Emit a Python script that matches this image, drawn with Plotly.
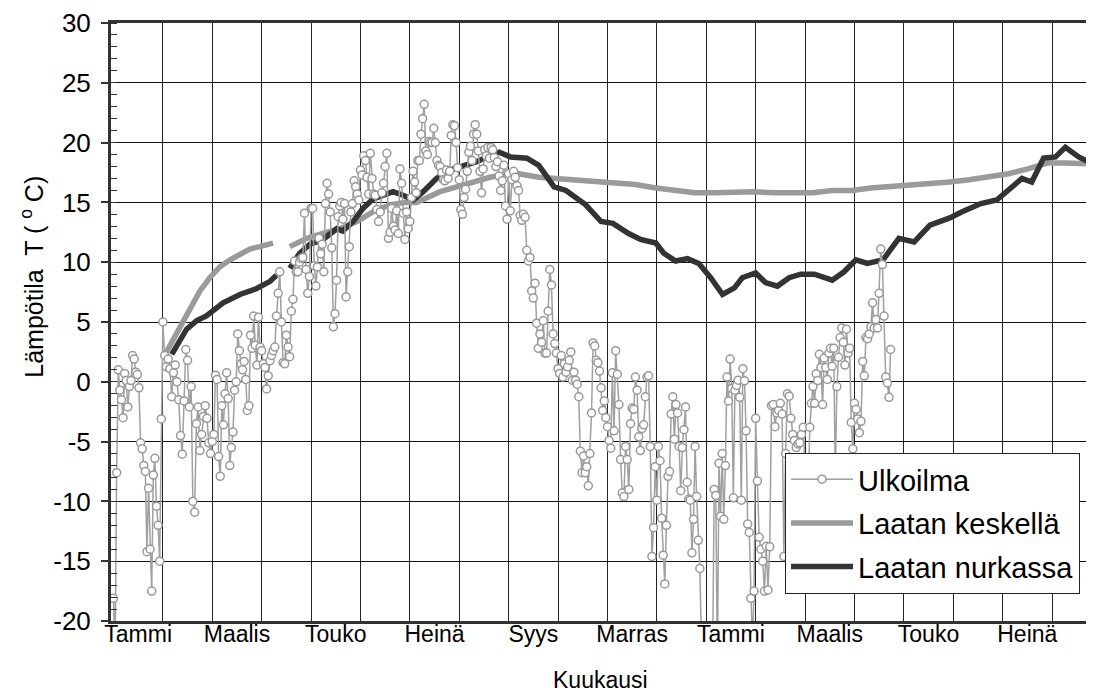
import plotly.graph_objects as go

# ---------------- data ----------------
kuukausi_nimet = ["Tammi", "Maalis", "Touko", "Heinä", "Syys",
                  "Marras", "Tammi", "Maalis", "Touko", "Heinä"]
kuukausi_pituudet = [31, 28, 31, 30, 31, 30, 31, 31, 30, 31, 30, 31, 31, 28, 31, 30]
y_tikit = [-20, -15, -10, -5, 0, 5, 10, 15, 20, 25, 30]
y_tikki_tekstit = ["-20", "-15", "-10", "-5", "0", "5", "10", "15", "20", "25", "30"]

# outdoor air, daily values, month by month (year 1 Jan ... year 2 Apr)
ulko_tammi1 = [-18.1, -23.0, -7.6, 1.0, -0.7, -1.5, -3.0, 0.7, 0.1, -2.1, -0.4, 0.1, 2.2, 1.9, 0.8, 0.6,
               -0.5, -5.1, -5.6, -7.0, -7.5, -14.2, -8.9, -14.0, -17.5, -7.8, -6.4, -10.4, -12.0, -15.0, -3.1]
ulko_helmi1 = [5.0, 2.2, 1.25, 1.9, 1.1, -1.25, 0.75, 1.4, 0.0, -1.5, -4.5, -6.05, -1.6, 2.7, 1.8, -2.1,
               -0.4, -10.0, -10.9, -3.5, -2.1, -5.75, -4.4, -2.9, -2.0, -3.05, -5.1, -6.0]
ulko_maalis1 = [-5.0, -4.4, 0.55, 0.2, -6.25, -7.9, -2.0, -3.6, -1.0, 0.75, -1.4, -7.0, -5.5, -4.2, -0.7, 0.0,
                4.0, 2.6, 1.5, 1.0, 1.7, 0.2, -2.4, -2.0, 3.9, 2.8, 5.5, 3.05, 1.4, 5.4, 2.9]
ulko_huhti1 = [2.6, 1.5, 1.2, -0.6, 0.5, 1.75, 2.2, 2.6, 2.9, 5.5, 7.4, 9.2, 5.0, 1.6, 1.5, 3.9,
               2.9, 2.1, 5.9, 6.9, 10.1, 9.2, 9.2, 10.0, 10.3, 10.4, 14.1, 9.4, 7.4, 8.8]
ulko_touko1 = [14.5, 14.5, 9.7, 8.0, 9.6, 12.0, 10.7, 11.5, 9.2, 14.9, 16.6, 15.7, 14.2, 11.2, 4.6, 5.7,
               8.5, 13.8, 14.7, 15.0, 13.6, 14.9, 7.1, 9.2, 11.3, 14.2, 14.9, 16.8, 16.3, 15.7, 15.2]
ulko_kesa1 = [17.7, 17.3, 18.9, 18.5, 17.1, 15.7, 19.1, 17.0, 15.7, 15.6, 14.4, 13.4, 14.2, 15.8, 16.6,
              18.0, 19.1, 12.0, 12.5, 14.5, 13.0, 12.7, 14.3, 12.4, 17.8, 16.6, 14.1, 11.9, 14.2, 12.8]
ulko_heina1 = [13.4, 15.4, 17.6, 16.7, 15.8, 18.5, 18.5, 20.7, 22.0, 23.2, 19.3, 19.0, 20.1, 20.0, 20.0, 21.2,
               20.0, 18.5, 18.1, 18.0, 17.5, 16.9, 16.8, 17.7, 17.0, 17.6, 20.6, 21.5, 21.4, 20.0, 17.9]
ulko_elo1 = [16.9, 14.4, 14.0, 15.4, 16.1, 17.6, 19.2, 19.7, 18.5, 20.7, 21.5, 20.7, 19.3, 17.6, 15.8, 17.8,
             19.4, 18.9, 19.6, 18.7, 19.6, 19.4, 18.75, 18.0, 18.4, 17.2, 16.0, 16.8, 18.1, 14.7, 13.6]
ulko_syys1 = [17.4, 14.3, 16.9, 17.6, 17.1, 16.4, 16.0, 13.9, 13.5, 14.0, 13.75, 11.0, 10.1, 10.4, 7.6,
              7.0, 8.25, 4.9, 2.8, 4.0, 3.3, 5.1, 2.4, 2.4, 5.9, 9.4, 8.1, 4.0, 3.2, 2.4]
ulko_loka1 = [1.1, 0.7, 2.2, 0.4, 1.5, 0.8, 1.25, 1.8, 2.5, 0.14, 0.8, 0.14, -0.2, -1.25, -5.8, -7.6,
              -6.2, -7.6, -7.1, -8.7, -6.0, -2.6, 3.25, 3.0, 1.8, 1.6, 0.9, -0.5, -2.4, -1.6, -3.0]
ulko_marras1 = [-3.75, -4.9, -5.55, 0.75, -4.1, 2.6, 0.64, -1.9, -6.5, -9.3, -9.6, -5.4, -6.5, -9.0, -3.5,
                -2.2, -2.3, 0.4, -0.7, -4.6, -5.75, -3.9, -3.6, -1.25, 0.4, 0.5, -5.4, -14.6, -12.2, -7.1]
ulko_joulu1 = [-9.9, -5.4, -6.6, -11.4, -14.5, -16.9, -12.0, -7.9, -7.5, -2.7, -1.25, -4.8, -1.9, -2.6, -5.4,
               -9.1, -5.5, -4.0, -2.1, -8.4, -9.8, -9.9, -14.3, -11.5, -5.4, -9.6, -13.25, -15.6, -22.0, -25.0, -23.0]
ulko_tammi2 = [-26.0, -24.0, -22.0, -27.0, -23.0, -9.0, -9.5, -24.0, -6.8, -11.25, -6.0, -11.5, -7.0, 0.4, -1.6,
               1.9, -0.55, -9.7, -0.7, -0.3, 0.14, -1.3, -9.9, 1.1, 0.08, -4.1, -11.9, -12.6, -18.1, -22.0, -17.5]
ulko_helmi2 = [-3.05, -8.3, -13.0, -14.0, -15.0, -17.5, -13.75, -17.4, -13.8, -2.0, -1.9, -3.75, -2.6, -2.4,
               -1.8, -2.7, -14.6, -6.0, -1.0, -1.2, -3.05, -4.4, -4.9, -5.5, -5.2, -5.1, -4.4, -3.8]
ulko_maalis2 = [-7.5, -10.5, -9.0, -3.8, -1.8, -0.4, -1.8, 0.67, 0.1, 2.3, 1.2, -1.9, 2.0, 1.2, 0.2, 2.4,
                2.8, 1.3, 2.8, -8.0, -0.4, 2.05, 3.7, 4.5, 3.3, 1.4, 4.4, 2.4, 2.8, -3.4, -5.6]
ulko_huhti2 = [-1.8, -2.3, -3.1, -4.25, -3.3, 1.7, 0.5, 3.7, 3.6, 4.0, 4.6, 6.6, 4.5, 5.2, 4.5, 7.4,
               11.1, 9.8, 5.5, 0.4, -0.1, -1.3, 2.7]

ulko_kuukaudet = [ulko_tammi1, ulko_helmi1, ulko_maalis1, ulko_huhti1, ulko_touko1, ulko_kesa1,
                  ulko_heina1, ulko_elo1, ulko_syys1, ulko_loka1, ulko_marras1, ulko_joulu1,
                  ulko_tammi2, ulko_helmi2, ulko_maalis2, ulko_huhti2]

# slab middle (time in months from start of first January)
keskella_aika = [1.06, 1.18, 1.30, 1.43, 1.55, 1.75, 1.95, 2.15, 2.36, 2.56, 2.76, 2.96, 3.23, None,
                 3.57, 3.91, 4.24, 4.58, 4.93, 5.25, 5.59, 5.90, 6.14, 6.61, 6.95, 7.28, 7.62, 7.88,
                 8.21, 8.61, 9.00, 9.40, 9.79, 10.19, 10.57, 10.98, 11.38, 11.77, 12.17, 12.96, 13.37,
                 14.16, 14.54, 14.95, 15.33, 15.74, 16.14, 16.53, 16.93, 17.32, 17.72, 18.12, 18.51,
                 18.92, 19.30, 19.71, 19.85]
keskella_T = [2.4, 3.3, 4.3, 5.2, 6.3, 7.6, 8.7, 9.6, 10.2, 10.7, 11.1, 11.3, 11.6, None,
              11.3, 12.0, 12.4, 12.8, 13.4, 14.2, 14.8, 15.0, 15.0, 15.9, 16.3, 16.7, 17.1, 17.3,
              17.4, 17.1, 17.0, 16.9, 16.8, 16.6, 16.5, 16.2, 16.0, 15.8, 15.8, 15.9, 15.8,
              15.8, 16.0, 16.0, 16.2, 16.3, 16.5, 16.6, 16.7, 16.9, 17.1, 17.4, 17.8,
              18.3, 18.3, 18.2, 18.2]

# slab corner
nurkassa_aika = [1.18, 1.48, 1.68, 1.88, 2.22, 2.56, 2.90, 3.17, 3.30, None,
                 3.57, 3.77, 3.98, 4.24, 4.52, 4.64, 4.85, 5.05, 5.26, 5.46, 5.66, 5.86, 6.07, 6.27,
                 6.54, 6.81, 7.08, 7.35, 7.62, 7.81, 8.04, 8.37, 8.61, 8.92, 9.16, 9.56, 9.87, 10.11,
                 10.43, 10.67, 10.98, 11.14, 11.38, 11.62, 11.85, 12.09, 12.33, 12.57, 12.73, 13.00,
                 13.20, 13.44, 13.68, 13.91, 14.19, 14.39, 14.55, 14.79, 15.03, 15.26, 15.58, 15.90,
                 16.21, 16.53, 16.93, 17.17, 17.56, 17.88, 18.12, 18.39, 18.59, 18.83, 19.07, 19.27,
                 19.54, 19.74]
nurkassa_T = [2.3, 4.4, 5.1, 5.5, 6.6, 7.3, 7.8, 8.4, 8.9, None,
              9.5, 10.75, 11.5, 11.9, 12.8, 12.6, 13.4, 14.5, 15.3, 15.6, 15.9, 15.6, 15.2, 15.9,
              17.0, 17.7, 18.0, 18.4, 18.9, 19.2, 18.8, 18.7, 18.1, 16.3, 16.0, 14.8, 13.4, 13.25,
              12.4, 11.9, 11.6, 10.75, 10.1, 10.3, 9.9, 8.7, 7.3, 7.85, 8.7, 9.1,
              8.3, 8.0, 8.7, 9.0, 9.0, 8.75, 8.5, 9.2, 10.2, 9.9, 10.2, 12.0,
              11.7, 13.1, 13.7, 14.2, 14.9, 15.2, 16.0, 17.0, 16.7, 18.7, 18.8, 19.6,
              18.8, 18.4]

# ---------------- build ----------------
x_ulko, y_ulko = [], []
for m, (vals, n) in enumerate(zip(ulko_kuukaudet, kuukausi_pituudet)):
    for i, v in enumerate(vals):
        x_ulko.append(m + i / n)
        y_ulko.append(v)

FONT = "Liberation Sans, Arial, sans-serif"

fig = go.Figure()
fig.add_trace(go.Scatter(
    x=keskella_aika, y=keskella_T, mode="lines", name="Laatan keskellä",
    line=dict(color="#9a9a9a", width=5.5), connectgaps=False,
    legendgroup="b", legendrank=2))
fig.add_trace(go.Scatter(
    x=nurkassa_aika, y=nurkassa_T, mode="lines", name="Laatan nurkassa",
    line=dict(color="#333333", width=5.5), connectgaps=False,
    legendgroup="c", legendrank=3))
fig.add_trace(go.Scatter(
    x=x_ulko, y=y_ulko, mode="lines+markers", name="Ulkoilma",
    line=dict(color="#a0a0a0", width=1.5),
    marker=dict(symbol="circle", size=8, color="white",
                line=dict(color="#999999", width=1.5)),
    legendgroup="a", legendrank=1))

# the page body has an 8px margin: the figure is sized so the plot area
# lands where the reference has it
fig.update_layout(
    width=1086, height=685,
    margin=dict(l=103, r=0, t=12, b=72),
    plot_bgcolor="white", paper_bgcolor="white",
    font=dict(family=FONT, size=23, color="black"),
    legend=dict(x=0.6857, y=0.2812, xanchor="left", yanchor="top",
                bgcolor="white", bordercolor="#222", borderwidth=1,
                font=dict(size=29, family=FONT, color="black"),
                itemwidth=62, tracegroupgap=3),
    xaxis=dict(
        range=[-0.05, 19.85],
        tickmode="array",
        tickvals=[0.5 + 2 * k for k in range(len(kuukausi_nimet))],
        ticktext=kuukausi_nimet,
        showgrid=False, ticks="", zeroline=False,
        showline=True, linecolor="#333333", linewidth=3, mirror=True,
        tickfont=dict(size=23), ticklabelstandoff=-10,
        ticklabeloverflow="allow",
        minor=dict(tickmode="array", tickvals=list(range(1, 20)),
                   showgrid=True, gridcolor="#222222", gridwidth=1, ticks=""),
    ),
    yaxis=dict(
        range=[-20, 30], tickmode="array", tickvals=y_tikit, ticktext=y_tikki_tekstit,
        showgrid=True, gridcolor="#111111", gridwidth=1,
        ticks="outside", ticklen=7, tickwidth=1.5, tickcolor="#333333",
        showline=True, linecolor="#333333", linewidth=3, zeroline=False,
        tickfont=dict(size=26), ticklabelstandoff=5,
        ticklabeloverflow="allow",
        minor=dict(tickmode="linear", dtick=1, tick0=0, ticks="inside", ticklen=6,
                   tickwidth=1, tickcolor="#333333", showgrid=False),
    ),
    annotations=[
        dict(text="Kuukausi", xref="paper", yref="paper", x=0.4975, y=-0.098,
             xanchor="center", yanchor="middle", showarrow=False,
             font=dict(size=23, family=FONT)),
        dict(text="Lämpötila  T ( <sup>o</sup> C)", xref="paper", yref="paper",
             x=-0.0804, y=0.5757, xanchor="center", yanchor="middle",
             textangle=-90, showarrow=False, font=dict(size=25, family=FONT)),
    ],
)

fig.write_html("out.html")
